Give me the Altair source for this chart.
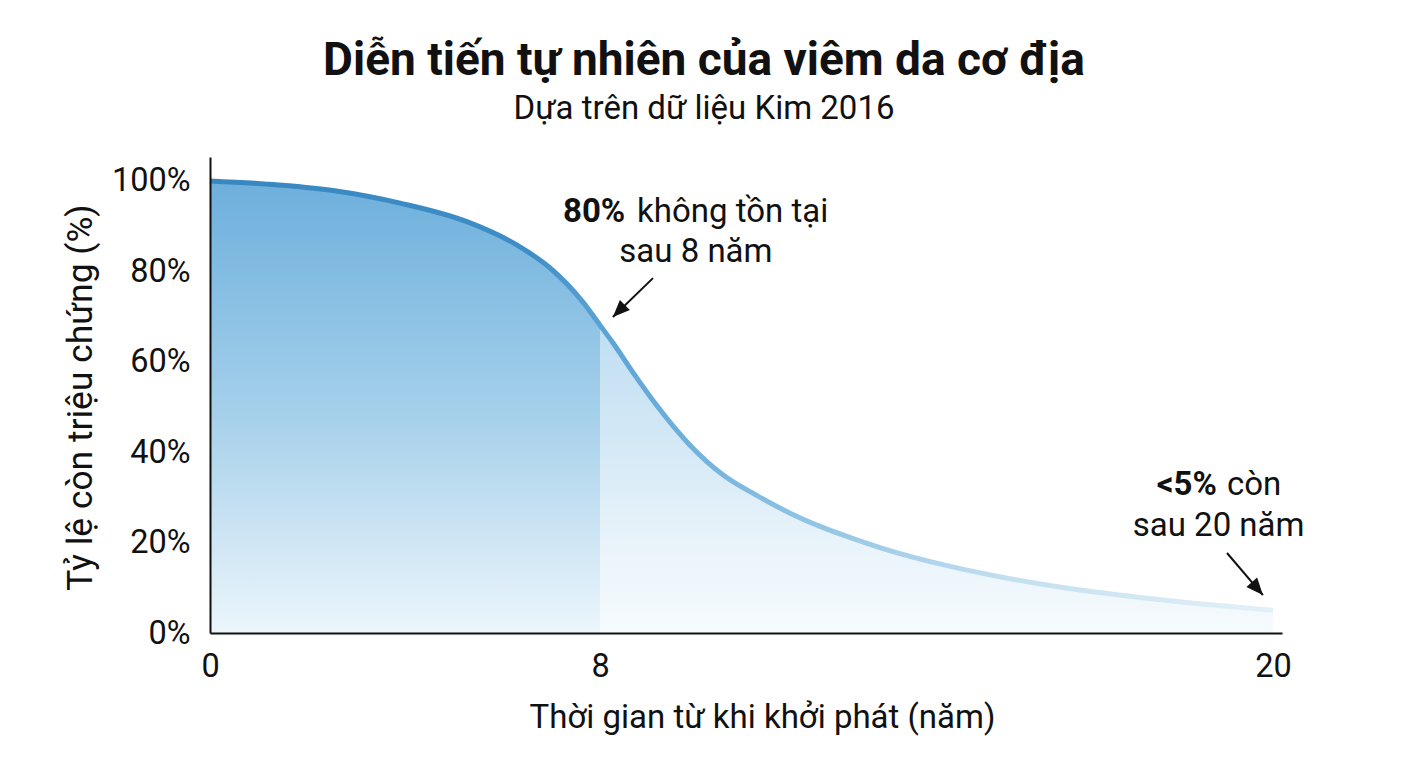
import altair as alt
import pandas as pd

FONT = "Roboto"
left_x = [0, 1.17, 2.52, 3.90, 5.27, 6.30, 6.97, 7.65, 8]
left_y = [100, 99.3, 97.9, 95.1, 91.0, 85.8, 80.8, 73.2, 68.1]
right_x = [8, 8.23, 8.59, 9.02, 9.60, 10.19, 10.80, 11.39, 11.98, 12.58, 13.12, 14.19, 15.36, 16.56, 17.75, 18.93, 20]
right_y = [68.1, 64.2, 57.6, 50.2, 41.6, 35.0, 30.4, 26.5, 23.3, 20.6, 18.4, 14.9, 11.9, 9.5, 7.7, 6.2, 5.0]

arrow_from_x = [8.945, 19.18]
arrow_from_y = [78.5, 17.7]
arrow_to_x = [8.23, 19.82]
arrow_to_y = [69.9, 8.4]
arrow_angle = [225, 139]

regular_x = [8.66, 19.18]
regular_y = [93.1, 32.7]
regular_t = ["không tồn tại", "còn"]
bold_x = [8.45, 19.0]
bold_y = [93.1, 32.7]
bold_t = ["80%", "<5%"]
center_x = [9.71, 19.03]
center_y = [84.3, 23.7]
center_t = ["sau 8 năm", "sau 20 năm"]

x_dom = [0, 8, 20, 20.16]
x_rng = [0, 390, 1063, 1072]
xs = alt.Scale(domain=x_dom, range=x_rng)
ys = alt.Scale(domain=[0, 105.3], nice=False)

left = pd.DataFrame({"x": left_x, "y": left_y})
right = pd.DataFrame({"x": right_x, "y": right_y})
full = pd.DataFrame({"x": left_x + right_x[1:], "y": left_y + right_y[1:]})
arr = pd.DataFrame({"x": arrow_from_x, "y": arrow_from_y, "x2": arrow_to_x, "y2": arrow_to_y, "a": arrow_angle})
notes_regular = pd.DataFrame({"x": regular_x, "y": regular_y, "t": regular_t})
notes_bold = pd.DataFrame({"x": bold_x, "y": bold_y, "t": bold_t})
notes_center = pd.DataFrame({"x": center_x, "y": center_y, "t": center_t})


def grad(stops, horizontal=False):
    return alt.Gradient(gradient="linear",
                        x1=0, y1=0, x2=1 if horizontal else 0, y2=0 if horizontal else 1,
                        stops=[alt.GradientStop(offset=o, color=c) for o, c in stops])


X = alt.X("x:Q", scale=xs, axis=alt.Axis(values=[0, 8, 20], title="Thời gian từ khi khởi phát (năm)",
          ticks=False, grid=False, domainColor="#111", domainWidth=2, labelFont=FONT, labelFontSize=32.5,
          labelColor="#111", labelPadding=17, labelFlush=False, titleFont=FONT, titleFontSize=33, titleFontWeight="normal",
          titleColor="#111", titleX=552, titleY=84, titleBaseline="middle", format="d", zindex=1))
Y = alt.Y("y:Q", scale=ys, axis=alt.Axis(values=[0, 20, 40, 60, 80, 100], labelExpr="datum.value + '%'",
          title="Tỷ lệ còn triệu chứng (%)", ticks=False, grid=False, domainColor="#111", domainWidth=2,
          labelFont=FONT, labelFontSize=32.5, labelColor="#111", labelPadding=20, titleFont=FONT,
          titleFontSize=35.4, titleFontWeight="normal", titleColor="#111", titleX=-130, titleY=240,
          titleBaseline="middle", zindex=1))

a_left = alt.Chart(left).mark_area(interpolate="monotone",
    color=grad([(0, "#6dafdc"), (0.5, "#a3cfea"), (1, "#ecf5fb")])).encode(x=X, y=Y)
a_right = alt.Chart(right).mark_area(interpolate="monotone",
    color=grad([(0, "#bfdef2"), (0.4, "#d5e9f6"), (0.7, "#e8f3fa"), (1, "#f6fbfe")])).encode(
    x=alt.X("x:Q", scale=xs), y=alt.Y("y:Q", scale=ys))
line = alt.Chart(full).mark_line(interpolate="monotone", strokeWidth=5, strokeCap="butt",
    stroke=grad([(0, "#3787c0"), (0.3, "#3f8dc6"), (0.37, "#5ba3d4"), (0.55, "#8cc2e4"), (0.75, "#c3dff0"), (1, "#e3f0f8")], True)
    ).encode(x=alt.X("x:Q", scale=xs), y=alt.Y("y:Q", scale=ys))

shaft = alt.Chart(arr).mark_rule(color="#111", strokeWidth=2).encode(
    x=alt.X("x:Q", scale=xs), x2="x2:Q", y=alt.Y("y:Q", scale=ys), y2="y2:Q")
head = alt.Chart(arr).mark_point(filled=True, color="#111", opacity=1, size=1150,
    shape="M0,0 L0.42,1 L-0.42,1 Z").encode(
    x=alt.X("x2:Q", scale=xs), y=alt.Y("y2:Q", scale=ys), angle=alt.Angle("a:Q", scale=None))


def text(df, align, weight):
    return alt.Chart(df).mark_text(font=FONT, fontSize=33, fontWeight=weight, align=align, baseline="middle", color="#111").encode(
        x=alt.X("x:Q", scale=xs), y=alt.Y("y:Q", scale=ys), text="t:N")


chart = alt.layer(a_left, a_right, line, shaft, head,
                  text(notes_bold, "right", "bold"), text(notes_regular, "left", "normal"), text(notes_center, "center", "normal")
).properties(
    width=1072, height=476, padding={"left": 202, "top": 149, "right": 100, "bottom": 120},
    autosize=alt.AutoSizeParams(type="none"), background="white",
    title=alt.TitleParams(text="Diễn tiến tự nhiên của viêm da cơ địa", subtitle="Dựa trên dữ liệu Kim 2016",
        font=FONT, fontSize=46, fontWeight="bold", color="#111", subtitleFont=FONT, subtitleFontSize=33,
        subtitleColor="#111", subtitlePadding=8, anchor="middle", frame="group", dx=-42, offset=30)
).configure_view(strokeWidth=0, stroke=None)
chart.save("out.html", embed_options={"renderer": "svg", "actions": False})
